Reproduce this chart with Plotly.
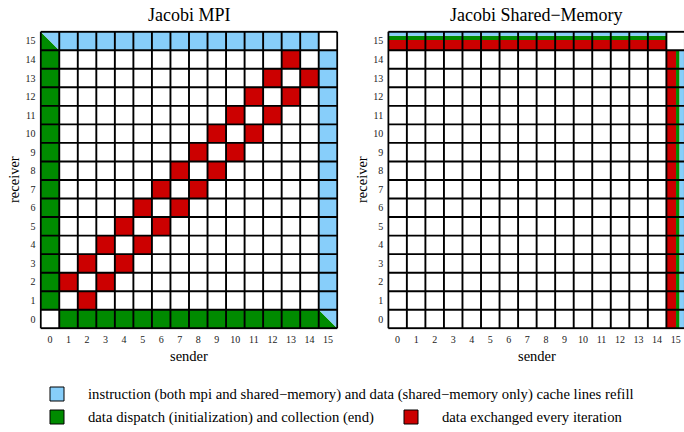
import plotly.graph_objects as go

# ---------------- data ----------------
SENDERS = list(range(16))
RECEIVERS = list(range(16))
TICK_LABELS = [str(v) for v in SENDERS]

# cell codes, rows listed from receiver 15 down to receiver 0, columns sender 0..15
# '.' none, 'B' cache refill, 'G' dispatch/collection, 'R' exchanged every iteration
# 'T' split cell (green lower-left / blue upper-right)
# 'H' horizontal stripes (red/green/blue), 'V' vertical stripes (red/green/blue)
MPI_ROWS = [
    "TBBBBBBBBBBBBBB.",
    "G............R.B",
    "G...........R.RB",
    "G..........R.R.B",
    "G.........R.R..B",
    "G........R.R...B",
    "G.......R.R....B",
    "G......R.R.....B",
    "G.....R.R......B",
    "G....R.R.......B",
    "G...R.R........B",
    "G..R.R.........B",
    "G.R.R..........B",
    "GR.R...........B",
    "G.R............B",
    ".GGGGGGGGGGGGGGT",
]
SHM_ROWS = [
    "HHHHHHHHHHHHHHH.",
    "...............V",
    "...............V",
    "...............V",
    "...............V",
    "...............V",
    "...............V",
    "...............V",
    "...............V",
    "...............V",
    "...............V",
    "...............V",
    "...............V",
    "...............V",
    "...............V",
    "...............V",
]
# stripe shares inside a striped cell (red, green, blue)
H_SHARES = [0.55, 0.23, 0.22]   # bottom -> top
V_SHARES = [0.52, 0.19, 0.29]   # left -> right

TITLES = ["Jacobi MPI", "Jacobi Shared\u2212Memory"]
LEGEND_LABELS = [
    "instruction (both mpi and shared\u2212memory) and data (shared\u2212memory only) cache lines refill",
    "data dispatch (initialization) and collection (end)",
    "data exchanged every iteration",
]

# ---------------- style ----------------
BLUE = "#87CEFA"
GREEN = "#008B00"
RED = "#CC0000"
FONT = "Liberation Serif"
CODE_VALUE = {".": 0, "B": 1, "G": 2, "R": 3}
COLORSCALE = [[0, "white"], [1 / 3, BLUE], [2 / 3, GREEN], [1, RED]]
STRIPE_COLORS = [RED, GREEN, BLUE]

fig = go.Figure()


def add_panel(rows, xa, ya):
    n = len(rows)
    z = []
    for r in RECEIVERS:
        row = rows[n - 1 - r]
        z.append([CODE_VALUE.get(ch, 0) for ch in row])
    fig.add_trace(go.Heatmap(
        x=SENDERS, y=RECEIVERS, z=z, zmin=0, zmax=3, colorscale=COLORSCALE,
        showscale=False, hoverinfo="skip", xaxis=xa, yaxis=ya,
    ))
    polys = {GREEN: ([], []), BLUE: ([], []), RED: ([], [])}

    def add_poly(color, pts):
        xs, ys = polys[color]
        for px, py in pts + [pts[0]]:
            xs.append(px)
            ys.append(py)
        xs.append(None)
        ys.append(None)

    for r in RECEIVERS:
        row = rows[n - 1 - r]
        for s in SENDERS:
            ch = row[s]
            x0, x1, y0, y1 = s - 0.5, s + 0.5, r - 0.5, r + 0.5
            if ch == "T":
                add_poly(GREEN, [(x0, y0), (x0, y1), (x1, y0)])
                add_poly(BLUE, [(x0, y1), (x1, y1), (x1, y0)])
            elif ch == "H":
                b = y0
                for col, share in zip(STRIPE_COLORS, H_SHARES):
                    add_poly(col, [(x0, b), (x1, b), (x1, b + share), (x0, b + share)])
                    b += share
            elif ch == "V":
                a = x0
                for col, share in zip(STRIPE_COLORS, V_SHARES):
                    add_poly(col, [(a, y0), (a + share, y0), (a + share, y1), (a, y1)])
                    a += share
    for col, (xs, ys) in polys.items():
        if xs:
            fig.add_trace(go.Scatter(
                x=xs, y=ys, mode="lines", fill="toself", fillcolor=col,
                line=dict(width=0, color=col), hoverinfo="skip",
                showlegend=False, xaxis=xa, yaxis=ya,
            ))
    gx, gy = [], []
    lo, hi = SENDERS[0] - 0.5, SENDERS[-1] + 0.5
    for k in range(len(SENDERS) + 1):
        v = SENDERS[0] - 0.5 + k
        gx += [v, v, None]
        gy += [lo, hi, None]
        gx += [lo, hi, None]
        gy += [v, v, None]
    fig.add_trace(go.Scatter(
        x=gx, y=gy, mode="lines", line=dict(color="black", width=1.9),
        hoverinfo="skip", showlegend=False, xaxis=xa, yaxis=ya,
    ))


add_panel(MPI_ROWS, "x", "y")
add_panel(SHM_ROWS, "x2", "y2")

tickfont = dict(family=FONT, size=10, color="#222")
common = dict(
    tickvals=SENDERS, ticktext=TICK_LABELS, showgrid=False, zeroline=False,
    showline=False, ticks="", tickfont=tickfont, ticklabelstandoff=3,
)
Y_DOM = [0.2375, 0.9292]
fig.update_layout(
    width=684, height=432,
    margin=dict(l=0, r=0, t=0, b=0),
    paper_bgcolor="white", plot_bgcolor="white",
    showlegend=False,
    xaxis=dict(domain=[0.0579, 0.4947], range=[-0.56, 15.56], anchor="y", **common),
    yaxis=dict(domain=Y_DOM, range=[-0.56, 15.56], anchor="x", **common),
    xaxis2=dict(domain=[0.5661, 1.0], range=[-0.56, 15.45], anchor="y2", **common),
    yaxis2=dict(domain=Y_DOM, range=[-0.56, 15.56], anchor="x2", **common),
)

W, H = 684, 432
ann = []
lab_font = dict(family=FONT, size=14.5, color="black")
leg_font = dict(family=FONT, size=14.7, color="black")
for cx, title in zip([189, 536.6], TITLES):
    ann.append(dict(x=cx / W, y=1 - 15 / H, xref="paper", yref="paper", text=title,
                    showarrow=False, xanchor="center", yanchor="middle",
                    font=dict(family=FONT, size=18, color="black")))
    ann.append(dict(x=cx / W, y=1 - 356 / H, xref="paper", yref="paper", text="sender",
                    showarrow=False, xanchor="center", yanchor="middle", font=lab_font))
for rx in [14, 362]:
    ann.append(dict(x=rx / W, y=1 - 180 / H, xref="paper", yref="paper", text="receiver",
                    showarrow=False, xanchor="center", yanchor="middle", textangle=-90,
                    font=lab_font))

legend_items = [
    (BLUE, 57, 394, LEGEND_LABELS[0]),
    (GREEN, 57, 417, LEGEND_LABELS[1]),
    (RED, 411, 417, LEGEND_LABELS[2]),
]
shapes = []
for col, sx, sy, label in legend_items:
    shapes.append(dict(type="rect", xref="paper", yref="paper",
                       x0=(sx - 7) / W, x1=(sx + 7) / W,
                       y0=1 - (sy + 7) / H, y1=1 - (sy - 7) / H,
                       fillcolor=col, line=dict(color="black", width=1)))
    ann.append(dict(x=(sx + 29) / W, y=1 - sy / H, xref="paper", yref="paper", text=label,
                    showarrow=False, xanchor="left", yanchor="middle", font=leg_font))

fig.update_layout(annotations=ann, shapes=shapes)
fig.write_html("out.html", config={"displayModeBar": False, "staticPlot": True},
               post_script="document.body.style.margin='0';document.body.style.overflow='hidden';")
